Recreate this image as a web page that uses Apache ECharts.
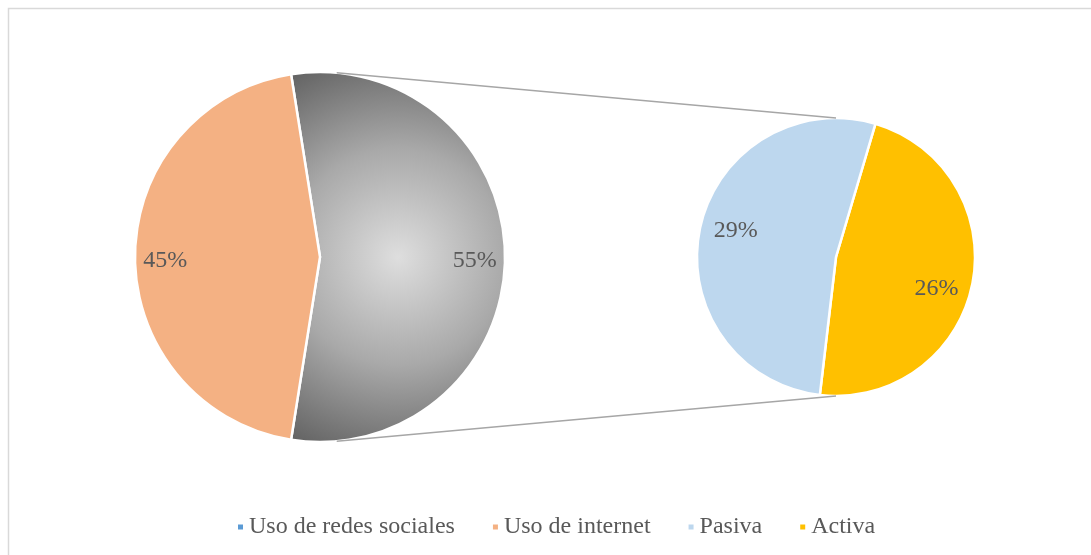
<!DOCTYPE html>
<html>
<head>
<meta charset="utf-8">
<script src="https://cdn.jsdelivr.net/npm/echarts@6/dist/echarts.min.js"></script>
<style>
  html, body { margin: 0; padding: 0; background: #fff; }
  #chart { width: 1091px; height: 555px; }
</style>
</head>
<body>
<div id="chart"></div>
<script>
// Primary pie: the aggregated category and the standalone one
const mainCategories = ['Uso de redes sociales', 'Uso de internet'];
const mainValues = [55, 45];
// Secondary pie: breakdown of "Uso de redes sociales"
const subCategories = ['Activa', 'Pasiva'];
const subValues = [26, 29];
// Legend order
const legendNames = ['Uso de redes sociales', 'Uso de internet', 'Pasiva', 'Activa'];

const colors = {
  'Uso de redes sociales': '#5B9BD5',
  'Uso de internet': '#F4B183',
  'Pasiva': '#BDD7EE',
  'Activa': '#FFC000'
};

const FONT = "'Liberation Serif', 'Times New Roman', serif";
const TEXT = '#595959';

// Layout of both pies
const leftC = [320, 257], leftR = 185;
const rightC = [836, 257], rightR = 139;

// Aggregated slice is centred on the right side (3 o'clock)
const mainTotal = mainValues.reduce((a, b) => a + b, 0);
const aggHalf = mainValues[0] / mainTotal * 180;
const mainStart = aggHalf;

const grayFill = {
  type: 'radial', x: 0.5, y: 0.5, r: 1,
  colorStops: [
    { offset: 0, color: '#dedede' },
    { offset: 0.5, color: '#a9a9a9' },
    { offset: 1, color: '#5f5f5f' }
  ]
};

function mainData(withStyle) {
  return mainCategories.map((n, i) => ({
    name: n,
    value: mainValues[i],
    itemStyle: withStyle ? { color: i === 0 ? grayFill : colors[n] } : { color: 'rgba(0,0,0,0)' }
  }));
}
function subData(withStyle) {
  return subCategories.map((n, i) => ({
    name: n,
    value: subValues[i],
    itemStyle: { color: withStyle ? colors[n] : 'rgba(0,0,0,0)' }
  }));
}

// Connector lines: tangent from the top/bottom of the secondary pie to the primary pie
function connector(sign) {
  const P = [rightC[0], rightC[1] + sign * rightR];
  const dx = P[0] - leftC[0], dy = P[1] - leftC[1];
  const d = Math.hypot(dx, dy);
  const base = Math.atan2(dy, dx);
  const off = Math.acos(leftR / d);
  const a = base + sign * off;
  const T = [leftC[0] + leftR * Math.cos(a), leftC[1] + leftR * Math.sin(a)];
  return [T, P];
}
const connectors = [connector(-1), connector(1)];

const labelStyle = {
  show: true,
  position: 'inside',
  formatter: '{c}%',
  fontFamily: FONT,
  fontSize: 24,
  color: TEXT
};

const option = {
  animation: false,
  backgroundColor: '#ffffff',
  legend: {
    data: legendNames.map(n => ({ name: n, itemStyle: { color: colors[n] } })),
    left: 231,
    top: 510,
    icon: 'rect',
    itemWidth: 7,
    itemHeight: 7,
    itemGap: 36,
    selectedMode: false,
    textStyle: { fontFamily: FONT, fontSize: 24, color: TEXT }
  },
  graphic: [
    {
      type: 'rect', z: -10, silent: true,
      shape: { x: 8.5, y: 8.5, width: 1100, height: 570 },
      style: { fill: 'none', stroke: '#d9d9d9', lineWidth: 1.5 }
    }
  ].concat(connectors.map(c => ({
    type: 'line', z: 10, silent: true,
    shape: { x1: c[0][0], y1: c[0][1], x2: c[1][0], y2: c[1][1] },
    style: { stroke: '#a6a6a6', lineWidth: 1.5 }
  }))),
  series: [
    {
      type: 'pie',
      center: leftC,
      radius: leftR,
      startAngle: mainStart,
      clockwise: true,
      avoidLabelOverlap: false,
      label: { show: false },
      labelLine: { show: false },
      itemStyle: { borderColor: '#ffffff', borderWidth: 2.5 },
      emphasis: { disabled: true },
      data: mainData(true)
    },
    {
      type: 'pie',
      center: rightC,
      radius: rightR,
      startAngle: 73.5,
      clockwise: true,
      avoidLabelOverlap: false,
      label: { show: false },
      labelLine: { show: false },
      itemStyle: { borderColor: '#ffffff', borderWidth: 2.5 },
      emphasis: { disabled: true },
      data: subData(true)
    },
    // Label rings: transparent pies whose mid-radius places the percentage text
    {
      type: 'pie',
      center: [leftC[0], leftC[1] + 4],
      radius: [leftR * 0.64, leftR],
      startAngle: mainStart,
      silent: true,
      legendHoverLink: false,
      avoidLabelOverlap: false,
      label: labelStyle,
      labelLine: { show: false },
      emphasis: { disabled: true },
      data: mainData(false)
    },
    {
      type: 'pie',
      center: [rightC[0], rightC[1] + 3],
      radius: [rightR * 0.46, rightR],
      startAngle: 69,
      silent: true,
      legendHoverLink: false,
      avoidLabelOverlap: false,
      label: labelStyle,
      labelLine: { show: false },
      emphasis: { disabled: true },
      data: subData(false)
    }
  ]
};

echarts.init(document.getElementById('chart')).setOption(option);
</script>
</body>
</html>
